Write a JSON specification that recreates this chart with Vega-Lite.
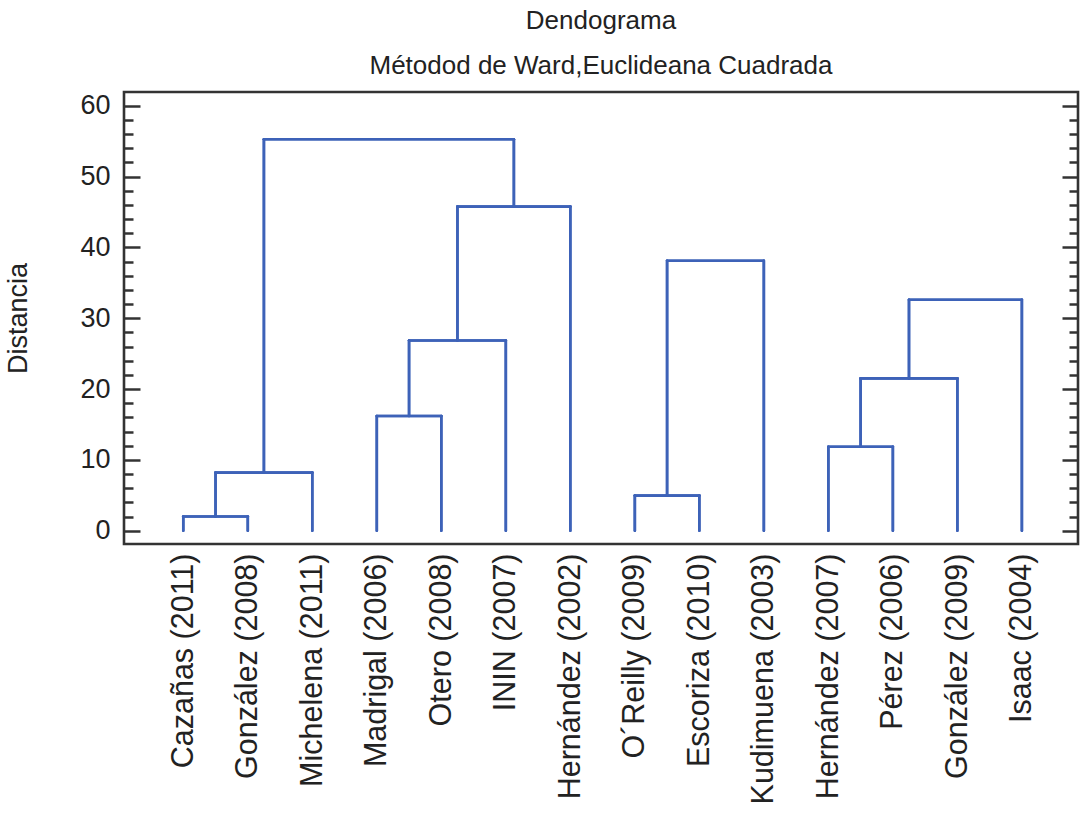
{
  "$schema": "https://vega.github.io/schema/vega-lite/v6.json",
  "autosize": {"type": "none"},
  "padding": {"left": 124, "top": 92, "right": 3, "bottom": 272},
  "width": 954,
  "height": 452,
  "background": "white",
  "title": {
    "text": "Dendograma",
    "subtitle": "Métodod de Ward,Euclideana Cuadrada",
    "anchor": "middle",
    "font": "Liberation Sans",
    "fontSize": 26,
    "fontWeight": "normal",
    "color": "#222222",
    "subtitleFont": "Liberation Sans",
    "subtitleFontSize": 26,
    "subtitleColor": "#222222",
    "subtitlePadding": 19,
    "offset": 13
  },
  "data": {
    "values": [
      {"x": 1, "x2": 1, "y": 0, "y2": 2.0},
      {"x": 2, "x2": 2, "y": 0, "y2": 2.0},
      {"x": 1, "x2": 2, "y": 2.0, "y2": 2.0},
      {"x": 1.5, "x2": 1.5, "y": 2.0, "y2": 8.2},
      {"x": 3, "x2": 3, "y": 0, "y2": 8.2},
      {"x": 1.5, "x2": 3, "y": 8.2, "y2": 8.2},
      {"x": 2.25, "x2": 2.25, "y": 8.2, "y2": 55.25},
      {"x": 4, "x2": 4, "y": 0, "y2": 16.2},
      {"x": 5, "x2": 5, "y": 0, "y2": 16.2},
      {"x": 4, "x2": 5, "y": 16.2, "y2": 16.2},
      {"x": 4.5, "x2": 4.5, "y": 16.2, "y2": 26.85},
      {"x": 6, "x2": 6, "y": 0, "y2": 26.85},
      {"x": 4.5, "x2": 6, "y": 26.85, "y2": 26.85},
      {"x": 5.25, "x2": 5.25, "y": 26.85, "y2": 45.75},
      {"x": 7, "x2": 7, "y": 0, "y2": 45.75},
      {"x": 5.25, "x2": 7, "y": 45.75, "y2": 45.75},
      {"x": 6.125, "x2": 6.125, "y": 45.75, "y2": 55.25},
      {"x": 2.25, "x2": 6.125, "y": 55.25, "y2": 55.25},
      {"x": 8, "x2": 8, "y": 0, "y2": 4.95},
      {"x": 9, "x2": 9, "y": 0, "y2": 4.95},
      {"x": 8, "x2": 9, "y": 4.95, "y2": 4.95},
      {"x": 8.5, "x2": 8.5, "y": 4.95, "y2": 38.1},
      {"x": 10, "x2": 10, "y": 0, "y2": 38.1},
      {"x": 8.5, "x2": 10, "y": 38.1, "y2": 38.1},
      {"x": 11, "x2": 11, "y": 0, "y2": 11.85},
      {"x": 12, "x2": 12, "y": 0, "y2": 11.85},
      {"x": 11, "x2": 12, "y": 11.85, "y2": 11.85},
      {"x": 11.5, "x2": 11.5, "y": 11.85, "y2": 21.5},
      {"x": 13, "x2": 13, "y": 0, "y2": 21.5},
      {"x": 11.5, "x2": 13, "y": 21.5, "y2": 21.5},
      {"x": 12.25, "x2": 12.25, "y": 21.5, "y2": 32.6},
      {"x": 14, "x2": 14, "y": 0, "y2": 32.6},
      {"x": 12.25, "x2": 14, "y": 32.6, "y2": 32.6}
    ]
  },
  "layer": [
    {
      "mark": {"type": "rule", "color": "#3D62B8", "strokeWidth": 2.6, "strokeCap": "round"},
      "encoding": {
        "x": {
          "field": "x", "type": "quantitative",
          "scale": {"domain": [0.081, 14.87], "nice": false, "zero": false},
          "axis": {
            "title": null,
            "values": [1,2,3,4,5,6,7,8,9,10,11,12,13,14],
            "labelExpr": "['Cazañas (2011)','González (2008)','Michelena (2011)','Madrigal (2006)','Otero (2008)','ININ (2007)','Hernández (2002)','O´Reilly (2009)','Escoriza (2010)','Kudimuena (2003)','Hernández (2007)','Pérez  (2006)','González (2009)','Isaac (2004)'][datum.value - 1]",
            "labelAngle": -90,
            "labelAlign": "right",
            "labelBaseline": "middle",
            "labelPadding": 9,
            "labelFont": "Liberation Sans",
            "labelFontSize": 30.5,
            "labelColor": "#222222",
            "labelLimit": 0,
            "labelOverlap": false,
            "labelFlush": false,
            "labelBound": false,
            "ticks": false,
            "domain": false,
            "grid": false
          }
        },
        "x2": {"field": "x2"},
        "y": {
          "field": "y", "type": "quantitative",
          "scale": {"domain": [-1.88, 61.93], "nice": false, "zero": false},
          "axis": {
            "title": "Distancia",
            "titleFont": "Liberation Sans",
            "titleFontSize": 27,
            "titleFontWeight": "normal",
            "titleColor": "#222222",
            "titlePadding": 47,
            "values": [0,2,4,6,8,10,12,14,16,18,20,22,24,26,28,30,32,34,36,38,40,42,44,46,48,50,52,54,56,58,60],
            "labelExpr": "datum.value % 10 === 0 ? datum.label : ''",
            "labelFont": "Liberation Sans",
            "labelFontSize": 27,
            "labelColor": "#222222",
            "labelPadding": 30,
            "labelOverlap": false,
            "labelFlush": false,
            "tickSize": {"condition": {"test": "datum.value % 10 === 0", "value": -16}, "value": -9},
            "tickColor": "#333333",
            "tickWidth": 2.5,
            "domain": false,
            "grid": false
          }
        },
        "y2": {"field": "y2"}
      }
    },
    {
      "mark": {"type": "rule", "color": "#3D62B8", "strokeWidth": 2.6, "strokeCap": "round"},
      "encoding": {
        "x": {"field": "x", "type": "quantitative"},
        "x2": {"field": "x2"},
        "y": {
          "field": "y", "type": "quantitative",
          "axis": {
            "orient": "right",
            "title": null,
            "values": [0,2,4,6,8,10,12,14,16,18,20,22,24,26,28,30,32,34,36,38,40,42,44,46,48,50,52,54,56,58,60],
            "labels": false,
            "tickSize": {"condition": {"test": "datum.value % 10 === 0", "value": -16}, "value": -9},
            "tickColor": "#333333",
            "tickWidth": 2.5,
            "domain": false,
            "grid": false
          }
        },
        "y2": {"field": "y2"}
      }
    }
  ],
  "resolve": {"axis": {"y": "independent"}},
  "config": {
    "view": {"stroke": "#333333", "strokeWidth": 2.6}
  }
}
